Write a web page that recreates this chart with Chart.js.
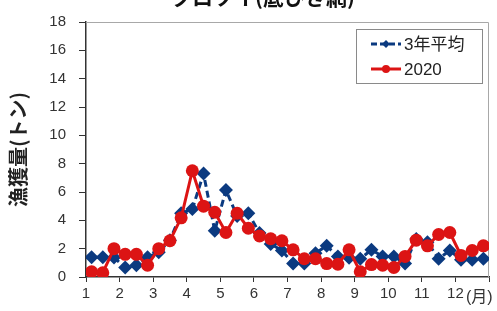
<!DOCTYPE html>
<html>
<head>
<meta charset="utf-8">
<script src="https://cdn.jsdelivr.net/npm/chart.js@4"></script>
<style>
  html,body{margin:0;padding:0;background:#fff;}
  #wrap{width:497px;height:311px;position:relative;}
</style>
</head>
<body>
<div id="wrap"><canvas id="chart" width="497" height="311"></canvas></div>
<script>
// 旬別 (3 per month) values
const months=['1','2','3','4','5','6','7','8','9','10','11','12'];
const periods=['上旬','中旬','下旬'];
const avg3yr=[1.4,1.4,1.37,0.67,0.83,1.4, 1.75,2.6,4.5, 4.8,7.3,3.26, 6.14,4.3,4.5, 3.1,2.33,1.87,
              0.95,0.95,1.68, 2.2,1.45,1.36, 1.29,1.92,1.45, 1.45,0.95,2.68, 2.45,1.29,1.87, 1.22,1.22,1.29];
const y2020=[0.37,0.3,2.0, 1.6,1.6,0.83, 2.0,2.56,4.18, 7.5,5.0,4.57, 3.14,4.5,3.44, 2.9,2.7,2.56,
             1.92,1.29,1.29, 0.95,0.9,1.92, 0.37,0.88,0.83, 0.67,1.45,2.6, 2.2,3.0,3.14, 1.52,1.87,2.2];
const yTicks=[0,2,4,6,8,10,12,14,16,18];
const chartTitle='クロソイ(底ひき網)';
const yTitle='漁獲量(トン)';
const unitLabel='(月)';
const seriesNames=['3年平均','2020'];

const categories=[];
months.forEach(m=>periods.forEach(p=>categories.push(m+'月'+p)));

const BLUE='#0b3a80';
const RED='#dc1414';

const pts=arr=>arr.map((v,i)=>({x:i+0.5,y:v}));

const extras={
  id:'extras',
  beforeDatasetsDraw(c){
    const a=c.chartArea, ctx=c.ctx;
    ctx.save();
    ctx.strokeStyle='#a8a8a8';
    ctx.lineWidth=1;
    ctx.beginPath();
    ctx.moveTo(a.left,a.top+0.5);
    ctx.lineTo(a.right-0.5,a.top+0.5);
    ctx.lineTo(a.right-0.5,a.bottom);
    ctx.stroke();
    ctx.restore();
  },
  afterDraw(c){
    const ctx=c.ctx;
    ctx.save();
    // title, cut off at the top like the picture
    ctx.fillStyle='#111';
    ctx.font='bold 21px "Noto Sans CJK JP"';
    ctx.textAlign='center';
    ctx.textBaseline='alphabetic';
    ctx.fillText(chartTitle,263,5);
    // unit label
    ctx.fillStyle='#333';
    ctx.font='16px "Liberation Sans", "Noto Sans CJK JP"';
    ctx.textAlign='left';
    ctx.textBaseline='middle';
    ctx.fillText(unitLabel,466,298);
    // legend
    const bx=356, by=29, bw=126, bh=54;
    ctx.fillStyle='#fff';
    ctx.fillRect(bx,by,bw,bh);
    ctx.strokeStyle='#8a8a8a';
    ctx.lineWidth=1;
    ctx.strokeRect(bx+0.5,by+0.5,bw,bh);
    const rows=[{y:by+15,color:BLUE,dash:[6,3],shape:'diamond'},{y:by+40,color:RED,dash:[],shape:'circle'}];
    rows.forEach((r,i)=>{
      ctx.strokeStyle=r.color;
      ctx.lineWidth=3;
      ctx.setLineDash(r.dash);
      ctx.beginPath();
      ctx.moveTo(371,r.y);
      ctx.lineTo(401,r.y);
      ctx.stroke();
      ctx.setLineDash([]);
      ctx.fillStyle=r.color;
      ctx.beginPath();
      if(r.shape==='diamond'){
        ctx.moveTo(386,r.y-4);ctx.lineTo(390,r.y);ctx.lineTo(386,r.y+4);ctx.lineTo(382,r.y);
      }else{
        ctx.arc(386,r.y,4,0,Math.PI*2);
      }
      ctx.closePath();
      ctx.fill();
      ctx.fillStyle='#222';
      ctx.font='17px "Liberation Sans", "Noto Sans CJK JP"';
      ctx.textBaseline='middle';
      ctx.fillText(seriesNames[i],404,r.y+1);
    });
    ctx.restore();
  }
};

new Chart(document.getElementById('chart'),{
  type:'line',
  data:{
    datasets:[
      {
        label:seriesNames[1],
        data:pts(y2020),
        borderColor:RED,
        backgroundColor:RED,
        borderWidth:3,
        pointStyle:'circle',
        pointRadius:6.5,
        pointBorderWidth:0,
        tension:0,
        order:1
      },
      {
        label:seriesNames[0],
        data:pts(avg3yr),
        borderColor:BLUE,
        backgroundColor:BLUE,
        borderWidth:3,
        borderDash:[7,4],
        pointStyle:'rectRot',
        pointRadius:7,
        pointBorderWidth:0,
        tension:0,
        order:2
      }
    ]
  },
  options:{
    responsive:false,
    animation:false,
    layout:{padding:{top:17,right:8,left:0,bottom:0}},
    plugins:{
      legend:{display:false},
      title:{display:false},
      tooltip:{enabled:false}
    },
    scales:{
      x:{
        type:'linear',
        min:0,
        max:36,
        afterFit(s){s.height=34;},
        afterBuildTicks(s){
          s.ticks=months.map((m,i)=>({value:i*3})).concat([{value:36}]);
        },
        ticks:{
          autoSkip:false,
          maxRotation:0,
          padding:3,
          color:'#333',
          font:{family:'"Liberation Sans"',size:15},
          callback:v=>months[v/3]||''
        },
        grid:{display:true,drawOnChartArea:false,drawTicks:true,tickLength:5,color:'#333'},
        border:{display:true,color:'#333',width:1.5}
      },
      y:{
        min:0,
        max:18,
        afterFit(s){s.width=86;},
        afterBuildTicks(s){
          s.ticks=yTicks.map(v=>({value:v}));
        },
        ticks:{
          padding:13,
          color:'#333',
          font:{family:'"Liberation Sans"',size:15}
        },
        grid:{display:true,drawOnChartArea:false,drawTicks:true,tickLength:7,color:'#333'},
        border:{display:true,color:'#333',width:1.5},
        title:{
          display:true,
          text:yTitle,
          color:'#222',
          font:{family:'"Noto Sans CJK JP"',size:20,weight:'bold'},
          padding:{top:6,bottom:0}
        }
      }
    }
  },
  plugins:[extras]
});
</script>
</body>
</html>
